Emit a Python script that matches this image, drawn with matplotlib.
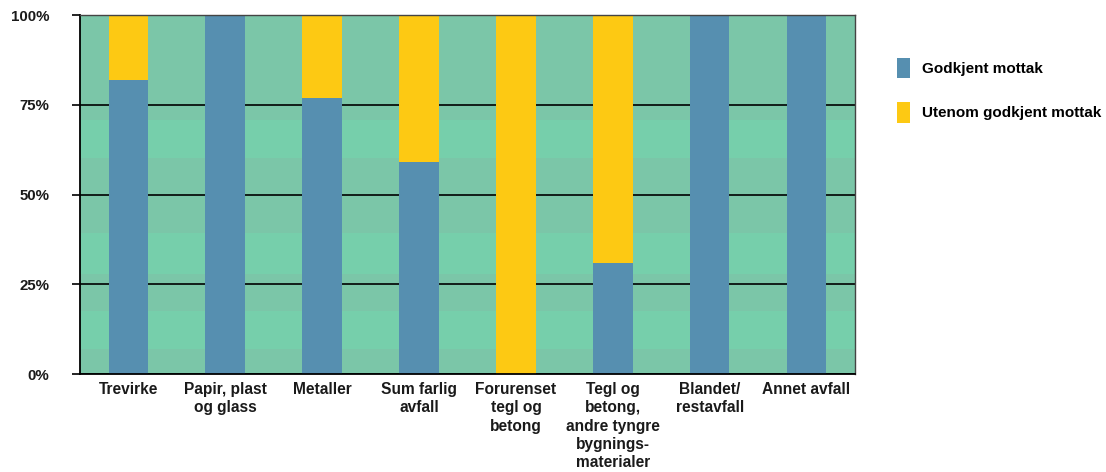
import matplotlib.pyplot as plt
from matplotlib.patches import Patch
import numpy as np

# Andel avfall levert til godkjent mottak, per avfallstype
categories = ["Trevirke", "Papir, plast\nog glass", "Metaller", "Sum farlig\navfall",
              "Forurenset\ntegl og\nbetong",
              "Tegl og\nbetong,\nandre tyngre\nbygnings-\nmaterialer",
              "Blandet/\nrestavfall", "Annet avfall"]
godkjent = [82, 100, 77, 59, 0, 31, 100, 100]
utenom = [18, 0, 23, 41, 100, 69, 0, 0]
series_names = ["Godkjent mottak", "Utenom godkjent mottak"]

# background shading bands (percent), alternating dark/light green
band_edges = [0, 7, 17.5, 28, 39.2, 60.1, 70.7, 100]

BLUE = "#568fb0"
YELLOW = "#fdc913"
GREEN_DARK = "#7bc6a8"
GREEN_LIGHT = "#76cfab"

plt.rcParams['font.family'] = ['Liberation Sans', 'DejaVu Sans']

fig = plt.figure(figsize=(11.06, 4.72), dpi=100)
ax = fig.add_axes([0.0723, 0.2076, 0.7007, 0.7604])

for i in range(len(band_edges) - 1):
    col = GREEN_DARK if i % 2 == 0 else GREEN_LIGHT
    ax.axhspan(band_edges[i], band_edges[i + 1], color=col, lw=0, zorder=0)

ax.set_axisbelow(True)
ax.yaxis.grid(True, color="black", lw=1.2, zorder=1)

x = np.arange(len(categories))
ax.bar(x, godkjent, width=0.41, color=BLUE, zorder=2, label=series_names[0])
ax.bar(x, utenom, width=0.41, bottom=godkjent, color=YELLOW, zorder=2, label=series_names[1])

ax.set_xlim(-0.5, len(categories) - 0.5)
ax.set_ylim(0, 100)
ax.set_yticks([0, 25, 50, 75, 100])
ax.set_yticklabels(["0%", "25%", "50%", "75%", "100%"], fontsize=10.8,
                   fontweight="bold", color="#1a1a1a")
ax.set_xticks(x)
ax.set_xticklabels(categories, fontsize=11.2, fontweight="bold", color="#1a1a1a",
                   linespacing=1.26, va="top")
ax.tick_params(axis="x", length=0, pad=6)
ax.tick_params(axis="y", length=6, width=1.2, color="black", pad=16, direction="out")

for side in ["left", "bottom"]:
    ax.spines[side].set_color("black")
    ax.spines[side].set_linewidth(1.3)
for side in ["top", "right"]:
    ax.spines[side].set_color("#444444")
    ax.spines[side].set_linewidth(1.0)

handles = [Patch(facecolor=BLUE, edgecolor="none"), Patch(facecolor=YELLOW, edgecolor="none")]
fig.legend(handles, series_names, loc="upper left", bbox_to_anchor=(0.799, 0.907),
           frameon=False, prop={"weight": "bold", "size": 11},
           handlelength=0.8, handleheight=1.7, labelspacing=1.55, handletextpad=0.8)

fig.savefig("out.png", dpi=100, facecolor="white")
